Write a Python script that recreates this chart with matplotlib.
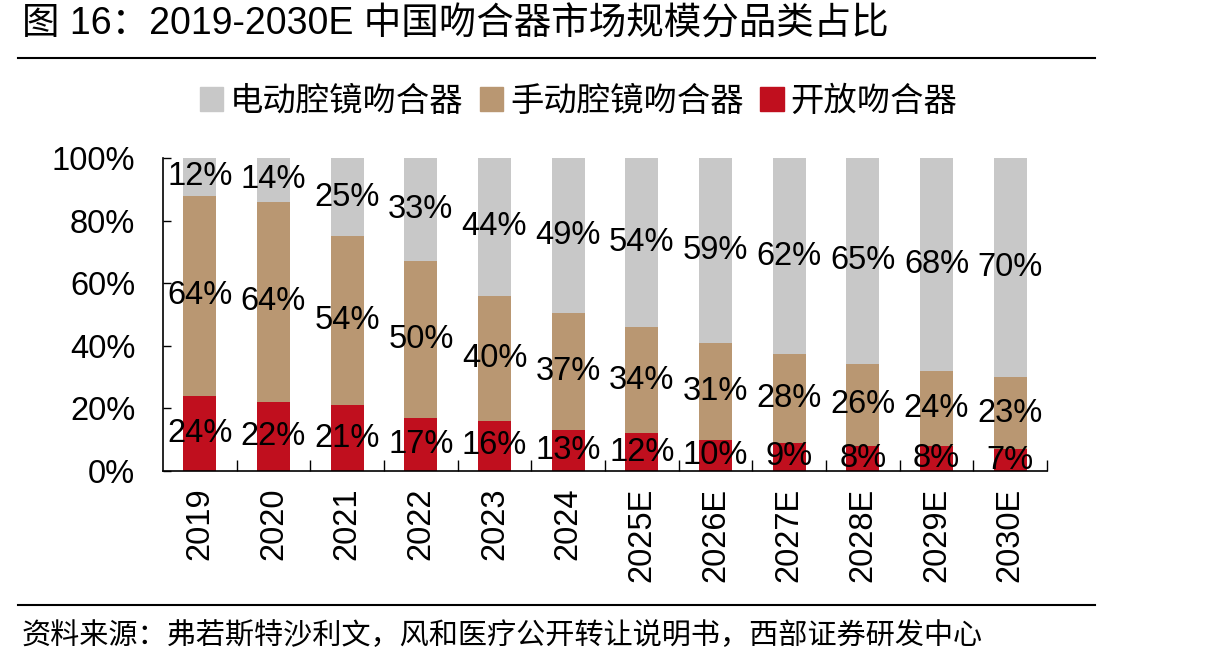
import numpy as np
import matplotlib
matplotlib.use('Agg')
import matplotlib.pyplot as plt
from matplotlib.lines import Line2D

plt.rcParams['font.family'] = ['Liberation Sans', 'Noto Sans CJK SC', 'DejaVu Sans']

years = ['2019', '2020', '2021', '2022', '2023', '2024',
         '2025E', '2026E', '2027E', '2028E', '2029E', '2030E']
open_st = [24, 22, 21, 17, 16, 13, 12, 10, 9, 8, 8, 7]
manual = [64, 64, 54, 50, 40, 37, 34, 31, 28, 26, 24, 23]
electric = [12, 14, 25, 33, 44, 49, 54, 59, 62, 65, 68, 70]
names = ['电动腔镜吻合器', '手动腔镜吻合器', '开放吻合器']
colors = ['#C8C8C8', '#B99772', '#C00F1E']

fig = plt.figure(figsize=(12.15, 6.7), dpi=100)
ax = fig.add_axes([163 / 1215, 1 - 471 / 670, 884 / 1215, 313 / 670])

x = np.arange(len(years))
w = 0.45
o = np.array(open_st)
m = np.array(manual)
e = np.array(electric)
tot = (o + m + e) / 100.0
# shares are rounded, stack them on a 100% basis
on, mn, en = o / tot, m / tot, e / tot
ax.bar(x, on, w, color=colors[2], zorder=2)
ax.bar(x, mn, w, bottom=on, color=colors[1], zorder=2)
ax.bar(x, en, w, bottom=on + mn, color=colors[0], zorder=2)

for i in x:
    segs = ((o[i], on[i], 0), (m[i], mn[i], on[i]), (e[i], en[i], on[i] + mn[i]))
    for val, h, base in segs:
        ax.text(i, base + h / 2, f'{val}%', ha='center', va='center',
                fontsize=23.5, zorder=3)

ax.set_xlim(-0.5, len(years) - 0.5)
ax.set_ylim(0, 100)
ax.set_yticks(range(0, 101, 20))
ax.set_yticklabels([f'{v}%' for v in range(0, 101, 20)], fontsize=23.5)
ax.tick_params(axis='y', direction='in', length=6, pad=20, width=1)
ax.set_xticks(x)
ax.set_xticklabels(years, rotation=90, fontsize=23.5, va='top')
ax.tick_params(axis='x', length=0, pad=12)
ax.set_xticks(np.arange(0.5, len(years), 1), minor=True)
ax.tick_params(axis='x', which='minor', direction='in', length=8, width=1)
for s in ['top', 'right']:
    ax.spines[s].set_visible(False)
for s in ['left', 'bottom']:
    ax.spines[s].set_linewidth(1.2)

handles = [plt.Rectangle((0, 0), 1, 1, color=c) for c in colors]
fig.legend(handles, names, loc='center', bbox_to_anchor=(0.476, 0.848), ncol=3,
           frameon=False, fontsize=24, handlelength=0.7, handleheight=0.7,
           handletextpad=0.2, columnspacing=0.5)

fig.text(22 / 1215, 1 - 25 / 670, '图 16：2019-2030E 中国吻合器市场规模分品类占比',
         fontsize=27, ha='left', va='center')
fig.add_artist(Line2D([18 / 1215, 1095 / 1215], [1 - 58 / 670] * 2,
                      color='black', lw=1.5))
fig.add_artist(Line2D([18 / 1215, 1095 / 1215], [1 - 605 / 670] * 2,
                      color='black', lw=1.5))
fig.text(22 / 1215, 1 - 636 / 670,
         '资料来源：弗若斯特沙利文，风和医疗公开转让说明书，西部证券研发中心',
         fontsize=21, ha='left', va='center')

fig.savefig('out.png', dpi=100)
